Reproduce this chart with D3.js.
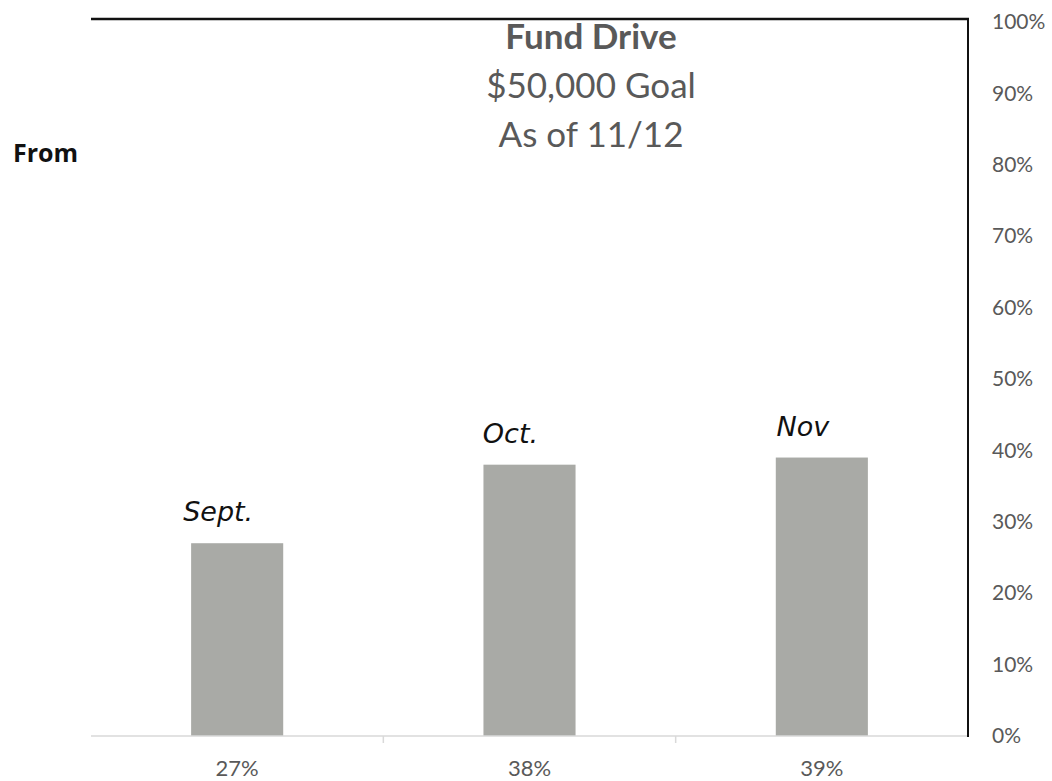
<!DOCTYPE html>
<html>
<head>
<meta charset="utf-8">
<script src="https://cdn.jsdelivr.net/npm/d3@7"></script>
<style>
body { margin: 0; background: #fff; }
svg { display: block; }
</style>
</head>
<body>
<script>
"use strict";
const months = ["Sept.", "Oct.", "Nov"];
const values = [0.27, 0.38, 0.39];
const tickLabels = ["27%", "38%", "39%"];
const yTicks = [0, 0.1, 0.2, 0.3, 0.4, 0.5, 0.6, 0.7, 0.8, 0.9, 1];
const titleLines = ["Fund Drive", "$50,000 Goal", "As of 11/12"];

function app() {
	const w = 1052;
	const h = 781;
	const left = 91, right = 968, top = 19, bottom = 736;
	const svg = d3.select("body").append("svg").attr("width", w).attr("height", h);

	const xScale = d3.scaleBand().domain(months).range([left, right]).paddingInner(0.685).paddingOuter(0.3425);
	const yScale = d3.scaleLinear().domain([0, 1]).range([bottom, 22]);
	const gap = xScale.step() - xScale.bandwidth();

	// bars
	svg.selectAll("rect.bar").data(values).enter().append("rect").attr("class", "bar")
		.attr("x", (d, i) => xScale(months[i]))
		.attr("y", d => yScale(d))
		.attr("width", xScale.bandwidth())
		.attr("height", d => bottom - yScale(d))
		.attr("fill", "#a9aaa6");

	// handwritten month notes
	svg.selectAll("text.note").data(values).enter().append("text").attr("class", "note")
		.attr("x", (d, i) => xScale(months[i]) + xScale.bandwidth() / 2 - 19)
		.attr("y", d => yScale(d) - 22)
		.attr("text-anchor", "middle")
		.attr("font-family", "'DejaVu Sans', sans-serif")
		.attr("font-style", "italic")
		.attr("font-weight", 300)
		.attr("font-size", 27)
		.attr("fill", "#111")
		.text((d, i) => months[i]);

	// bottom axis
	const xAxis = d3.axisBottom(xScale).tickSize(0).tickPadding(24).tickFormat((d, i) => tickLabels[i]);
	const gx = svg.append("g").attr("transform", "translate(0," + bottom + ")").call(xAxis);
	gx.select(".domain").remove();
	gx.selectAll("text").attr("font-family", "Lato, sans-serif").attr("font-size", 22).attr("fill", "#595959");
	gx.append("line").attr("x1", left).attr("x2", right).attr("stroke", "#d9d9d9").attr("stroke-width", 1.5);
	gx.selectAll("line.sep").data(months.slice(1)).enter().append("line").attr("class", "sep")
		.attr("x1", d => xScale(d) - gap / 2).attr("x2", d => xScale(d) - gap / 2)
		.attr("y1", 0).attr("y2", 7).attr("stroke", "#d9d9d9").attr("stroke-width", 1.5);

	// right axis
	const yAxis = d3.axisRight(yScale).tickValues(yTicks).tickSize(0).tickPadding(24).tickFormat(d3.format(".0%"));
	const gy = svg.append("g").attr("transform", "translate(" + right + ",0)").call(yAxis);
	gy.select(".domain").remove();
	gy.selectAll("text").attr("font-family", "Lato, sans-serif").attr("font-size", 21).attr("fill", "#595959");

	// frame: top and right black lines
	svg.append("line").attr("x1", left).attr("x2", right + 1).attr("y1", top).attr("y2", top).attr("stroke", "#111").attr("stroke-width", 2.5);
	svg.append("line").attr("x1", right).attr("x2", right).attr("y1", top).attr("y2", bottom + 1).attr("stroke", "#111").attr("stroke-width", 2);

	// title
	svg.selectAll("text.title").data(titleLines).enter().append("text").attr("class", "title")
		.attr("x", 591)
		.attr("y", (d, i) => 49 + i * 49)
		.attr("text-anchor", "middle")
		.attr("font-family", "Lato, sans-serif")
		.attr("font-weight", (d, i) => i === 0 ? "bold" : "normal")
		.attr("font-size", 35)
		.attr("fill", "#595959")
		.text(d => d);

	svg.append("text").attr("x", 13).attr("y", 162)
		.attr("font-family", "'Open Sans', sans-serif").attr("font-weight", "bold")
		.attr("font-size", 25).attr("fill", "#111").text("From");
}

app();
</script>
</body>
</html>
